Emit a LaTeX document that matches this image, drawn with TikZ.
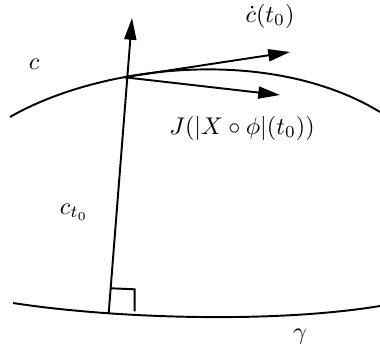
\documentclass[tikz,border=0pt]{standalone}
\usetikzlibrary{arrows.meta,calc}
\begin{document}
\begin{tikzpicture}[x=0.414pt,y=-0.414pt,
  curve/.style={line width=0.8pt},
  vec/.style={line width=0.8pt,-{Triangle[length=9pt,width=5pt]}},
  lbl/.style={inner sep=0pt}]
\useasboundingbox (0,0) rectangle (380,354);
% curves (with the foot points on them)
\draw[curve] (10,117) .. controls (100,65) and (270,45) .. coordinate[pos=0.34] (P) (380,112);
\draw[curve] (13,303) .. controls (110,318) and (270,324) .. coordinate[pos=0.285] (Q) (380,306);
% arrow tips
\coordinate (T) at (132,18);
\coordinate (V) at (290,52);
\coordinate (J) at (280,95);
% vectors
\draw[vec] (Q) -- (T);
\draw[vec] (P) -- (V);
\draw[vec] (P) -- (J);
% right angle mark
\draw[curve] ($(Q)+(2,-25)$) -- ++(24,1) -- ++(0,22);
% labels
\node[lbl] (lc) at (34,64) {$c$};
\node[lbl] (lcdot) at (270,16) {$\dot c(t_0)$};
\node[lbl] (lJ) at (242,128) {$J(|X\circ\phi|(t_0))$};
\node[lbl] (lct) at (74,212) {$c_{t_0}$};
\node[lbl] (lg) at (300,337) {$\gamma$};
\end{tikzpicture}
\end{document}
